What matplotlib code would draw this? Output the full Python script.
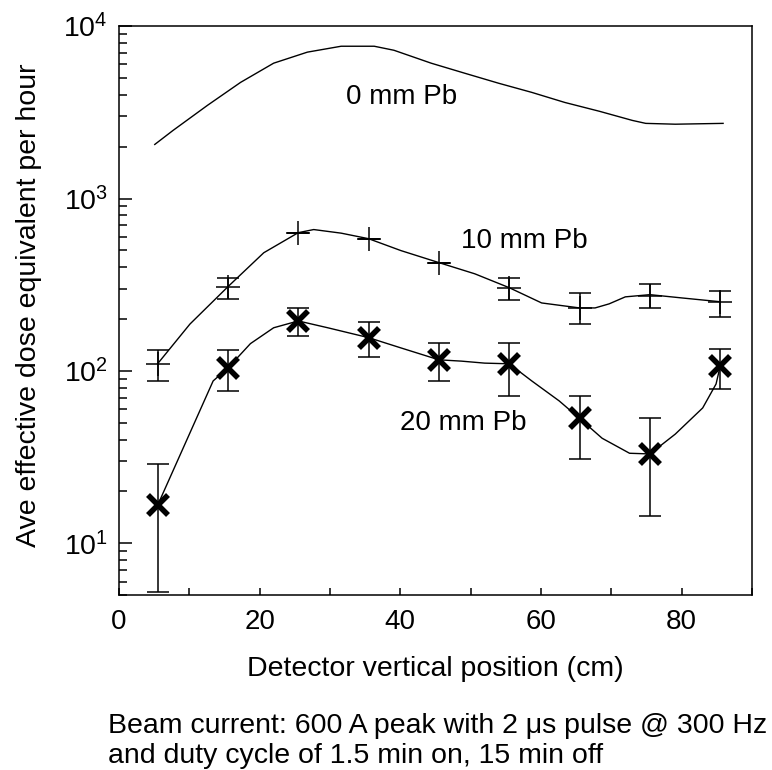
import numpy as np
import matplotlib
matplotlib.use("Agg")
import matplotlib.pyplot as plt
from matplotlib.ticker import LogLocator, MultipleLocator, NullFormatter

# detector positions of the measured points (cm)
pos = [5.5, 15.5, 25.5, 35.5, 45.5, 55.5, 65.5, 75.5, 85.5]

# 10 mm Pb: value, upper and lower end of error bar
pb10 = [110, 308, 634, 585, 425, 304, 232, 273, 252]
pb10_hi = [132, 347, 634, 585, 425, 347, 284, 321, 292]
pb10_lo = [88, 263, 634, 585, 425, 259, 187, 232, 206]

# 20 mm Pb
pb20 = [16.6, 104, 195, 156, 116, 110, 53, 33, 107]
pb20_hi = [28.8, 132, 232, 193, 145, 145, 72, 53, 134]
pb20_lo = [5.2, 77, 160, 121, 87, 72, 31, 14.4, 79]

# smooth curves
curve0_x = [5.1, 7.7, 12.6, 17.3, 22.0, 26.8, 31.6, 36.3, 39.1, 44.4, 49.2,
            54.0, 58.7, 63.4, 68.3, 73.0, 74.9, 79.1, 85.9]
curve0_y = [2060, 2485, 3475, 4720, 6100, 7070, 7650, 7650, 7250, 6100, 5330,
            4665, 4130, 3610, 3210, 2840, 2730, 2700, 2730]

curve10_x = [5.5, 10.1, 15.5, 20.6, 25.5, 27.7, 31.6, 35.5, 40.1, 45.5, 50.6,
             55.5, 60.1, 65.5, 67.7, 69.7, 72.0, 75.5, 80.1, 85.5]
curve10_y = [110, 187, 308, 485, 634, 661, 630, 585, 499, 425, 366,
             304, 248, 232, 232, 245, 269, 277, 265, 252]

curve20_x = [5.5, 13.4, 15.5, 18.7, 22.0, 25.5, 29.7, 35.5, 40.1, 45.5, 48.7,
             52.0, 55.5, 58.7, 62.6, 65.5, 68.7, 72.6, 75.5, 79.1, 83.0, 84.9,
             85.5]
curve20_y = [16.6, 87.5, 104, 144, 178, 195, 178, 156, 136, 116, 114,
             111, 110, 87.5, 67, 53, 40.7, 33.3, 33, 43, 61, 84,
             107]

plt.rcParams["font.family"] = ["Liberation Sans", "DejaVu Sans"]
plt.rcParams["mathtext.default"] = "regular"

fig = plt.figure(figsize=(7.72, 7.70), dpi=100)
ax = fig.add_axes([0.154, 0.227, 0.820, 0.739])

ax.plot(curve0_x, curve0_y, "k-", linewidth=1.0)
ax.plot(curve10_x, curve10_y, "k-", linewidth=1.0)
ax.plot(curve20_x, curve20_y, "k-", linewidth=1.0)

pb10 = np.array(pb10)
pb20 = np.array(pb20)
err10 = [pb10 - np.array(pb10_lo), np.array(pb10_hi) - pb10]
err20 = [pb20 - np.array(pb20_lo), np.array(pb20_hi) - pb20]

ax.errorbar(pos, pb10, yerr=err10, fmt="none", ecolor="k",
            elinewidth=1.1, capsize=8, capthick=1.1)
ax.errorbar(pos, pb20, yerr=err20, fmt="none", ecolor="k",
            elinewidth=1.1, capsize=8, capthick=1.1)
ax.plot(pos, pb10, "k+", markersize=17, markeredgewidth=1.1)
ax.plot(pos, pb20, "kx", markersize=15, markeredgewidth=4.0)

ax.text(32.3, 3860, "0 mm Pb", fontsize=20, va="center", ha="left")
ax.text(48.7, 570, "10 mm Pb", fontsize=20, va="center", ha="left")
ax.text(39.9, 50, "20 mm Pb", fontsize=20, va="center", ha="left")

ax.set_yscale("log")
ax.set_xlim(0, 90)
ax.set_ylim(5, 1e4)
ax.xaxis.set_major_locator(MultipleLocator(20))
ax.xaxis.set_minor_locator(MultipleLocator(10))
ax.yaxis.set_major_locator(LogLocator(base=10))
ax.yaxis.set_minor_locator(LogLocator(base=10, subs=np.arange(2, 10)))
ax.yaxis.set_minor_formatter(NullFormatter())

ax.tick_params(axis="both", which="both", direction="in", width=1.1)
ax.tick_params(axis="x", which="both", length=5, pad=10, labelsize=20)
ax.tick_params(axis="y", which="major", length=9.5, pad=8, labelsize=20.5)
ax.tick_params(axis="y", which="minor", length=6)
for sp in ax.spines.values():
    sp.set_linewidth(1.1)

ax.set_xlabel("Detector vertical position (cm)", fontsize=20.5)
ax.set_ylabel("Ave effective dose equivalent per hour", fontsize=20.5)
ax.xaxis.set_label_coords(0.5, -0.106)
ax.yaxis.set_label_coords(-0.122, 0.51)

fig.text(0.140, 0.048, "Beam current: 600 A peak with 2 \u03bcs pulse @ 300 Hz",
         fontsize=20.5, va="baseline", ha="left")
fig.text(0.140, 0.009, "and duty cycle of 1.5 min on, 15 min off",
         fontsize=20.5, va="baseline", ha="left")

fig.savefig("out.png", dpi=100)
